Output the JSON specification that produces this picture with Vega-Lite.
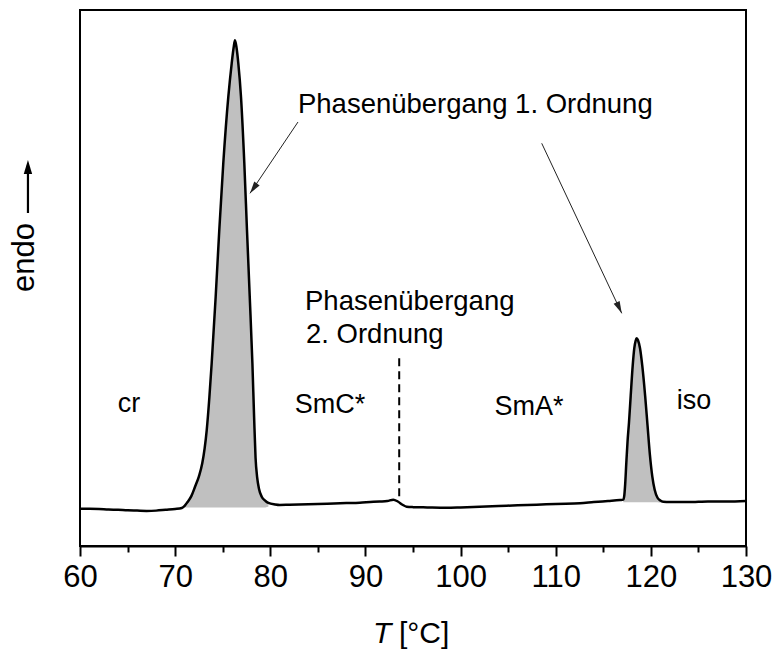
{
  "$schema": "https://vega.github.io/schema/vega-lite/v6.json",
  "width": 666,
  "height": 536,
  "autosize": {"type": "none"},
  "padding": {"left": 80, "top": 10, "right": 31, "bottom": 106},
  "background": "white",
  "config": {"view": {"stroke": "black", "strokeWidth": 2}, "font": "Liberation Sans"},
  "datasets": {
    "curve": [
      {"T": 60, "u": 6.96}, {"T": 61, "u": 6.95}, {"T": 62, "u": 6.9}, {"T": 63, "u": 6.8}, {"T": 64, "u": 6.75},
      {"T": 65, "u": 6.65}, {"T": 66, "u": 6.6}, {"T": 67, "u": 6.55}, {"T": 68, "u": 6.6}, {"T": 69, "u": 6.75},
      {"T": 70, "u": 6.9}, {"T": 70.7, "u": 7.1}, {"T": 71.0, "u": 7.5}, {"T": 71.3, "u": 8.2}, {"T": 71.7, "u": 9.3},
      {"T": 72.09, "u": 11.06}, {"T": 72.5, "u": 13.0}, {"T": 72.85, "u": 15.43}, {"T": 73.1, "u": 18.2}, {"T": 73.32, "u": 21.64},
      {"T": 73.6, "u": 27.8}, {"T": 73.84, "u": 34.09}, {"T": 74.26, "u": 46.51}, {"T": 74.64, "u": 58.96}, {"T": 75.06, "u": 71.4},
      {"T": 75.59, "u": 83.82}, {"T": 75.945, "u": 90.06}, {"T": 76.15, "u": 93.0}, {"T": 76.29, "u": 94.35}, {"T": 76.45, "u": 93.0},
      {"T": 76.64, "u": 90.06}, {"T": 76.92, "u": 83.82}, {"T": 77.27, "u": 71.4}, {"T": 77.55, "u": 58.96}, {"T": 77.84, "u": 46.51},
      {"T": 78.12, "u": 34.1}, {"T": 78.3, "u": 24.0}, {"T": 78.45, "u": 16.5}, {"T": 78.62, "u": 12.8}, {"T": 78.81, "u": 10.7},
      {"T": 79.1, "u": 9.2}, {"T": 79.5, "u": 8.4}, {"T": 79.8, "u": 8.05}, {"T": 80.5, "u": 7.75}, {"T": 81, "u": 7.65},
      {"T": 82, "u": 7.7}, {"T": 84, "u": 7.8}, {"T": 86, "u": 7.9}, {"T": 88, "u": 8.0}, {"T": 89.4, "u": 8.08},
      {"T": 90.5, "u": 8.2}, {"T": 91.5, "u": 8.3}, {"T": 92.3, "u": 8.4}, {"T": 92.93, "u": 8.65}, {"T": 93.4, "u": 8.3},
      {"T": 93.9, "u": 7.7}, {"T": 94.33, "u": 7.33}, {"T": 95, "u": 7.25}, {"T": 96.5, "u": 7.2}, {"T": 98.5, "u": 7.15},
      {"T": 100, "u": 7.2}, {"T": 102, "u": 7.3}, {"T": 104, "u": 7.45}, {"T": 106, "u": 7.6}, {"T": 108, "u": 7.7},
      {"T": 110, "u": 7.85}, {"T": 112.55, "u": 7.97}, {"T": 114, "u": 8.2}, {"T": 115.5, "u": 8.4}, {"T": 116.76, "u": 8.58},
      {"T": 117.1, "u": 8.65}, {"T": 117.2, "u": 9.3}, {"T": 117.3, "u": 11.5}, {"T": 117.42, "u": 15.5}, {"T": 117.55, "u": 19.5},
      {"T": 117.7, "u": 23.0}, {"T": 117.88, "u": 28.0}, {"T": 118.09, "u": 33.6}, {"T": 118.26, "u": 36.9}, {"T": 118.4, "u": 38.3},
      {"T": 118.51, "u": 38.75}, {"T": 118.65, "u": 38.4}, {"T": 118.86, "u": 36.9}, {"T": 119.1, "u": 33.6}, {"T": 119.4, "u": 28.0},
      {"T": 119.65, "u": 22.5}, {"T": 119.9, "u": 17.0}, {"T": 120.15, "u": 13.0}, {"T": 120.4, "u": 10.5}, {"T": 120.7, "u": 9.0},
      {"T": 121.0, "u": 8.5}, {"T": 121.3, "u": 8.27},
      {"T": 122, "u": 8.2}, {"T": 124, "u": 8.2}, {"T": 125, "u": 8.25}, {"T": 126, "u": 8.3}, {"T": 128, "u": 8.3},
      {"T": 130, "u": 8.4}
    ],
    "fill": [
      {"p": 1, "T": 71.0, "u": 7.5, "u2": 7.2}, {"p": 1, "T": 71.3, "u": 8.2, "u2": 7.2}, {"p": 1, "T": 71.7, "u": 9.3, "u2": 7.2},
      {"p": 1, "T": 72.09, "u": 11.06, "u2": 7.2}, {"p": 1, "T": 72.5, "u": 13.0, "u2": 7.2}, {"p": 1, "T": 72.85, "u": 15.43, "u2": 7.2},
      {"p": 1, "T": 73.1, "u": 18.2, "u2": 7.2}, {"p": 1, "T": 73.32, "u": 21.64, "u2": 7.2}, {"p": 1, "T": 73.6, "u": 27.8, "u2": 7.2},
      {"p": 1, "T": 73.84, "u": 34.09, "u2": 7.2}, {"p": 1, "T": 74.26, "u": 46.51, "u2": 7.2}, {"p": 1, "T": 74.64, "u": 58.96, "u2": 7.2},
      {"p": 1, "T": 75.06, "u": 71.4, "u2": 7.2}, {"p": 1, "T": 75.59, "u": 83.82, "u2": 7.2}, {"p": 1, "T": 75.945, "u": 90.06, "u2": 7.2},
      {"p": 1, "T": 76.15, "u": 93.0, "u2": 7.2}, {"p": 1, "T": 76.29, "u": 94.35, "u2": 7.2}, {"p": 1, "T": 76.45, "u": 93.0, "u2": 7.2},
      {"p": 1, "T": 76.64, "u": 90.06, "u2": 7.2}, {"p": 1, "T": 76.92, "u": 83.82, "u2": 7.2}, {"p": 1, "T": 77.27, "u": 71.4, "u2": 7.2},
      {"p": 1, "T": 77.55, "u": 58.96, "u2": 7.2}, {"p": 1, "T": 77.84, "u": 46.51, "u2": 7.2}, {"p": 1, "T": 78.12, "u": 34.1, "u2": 7.2},
      {"p": 1, "T": 78.3, "u": 24.0, "u2": 7.2}, {"p": 1, "T": 78.45, "u": 16.5, "u2": 7.2}, {"p": 1, "T": 78.62, "u": 12.8, "u2": 7.2},
      {"p": 1, "T": 78.81, "u": 10.7, "u2": 7.2}, {"p": 1, "T": 79.1, "u": 9.2, "u2": 7.2}, {"p": 1, "T": 79.5, "u": 8.4, "u2": 7.2},
      {"p": 1, "T": 79.8, "u": 8.05, "u2": 7.3},
      {"p": 2, "T": 117.1, "u": 8.65, "u2": 8.15}, {"p": 2, "T": 117.2, "u": 9.3, "u2": 8.15}, {"p": 2, "T": 117.3, "u": 11.5, "u2": 8.15},
      {"p": 2, "T": 117.42, "u": 15.5, "u2": 8.15}, {"p": 2, "T": 117.55, "u": 19.5, "u2": 8.15}, {"p": 2, "T": 117.7, "u": 23.0, "u2": 8.15},
      {"p": 2, "T": 117.88, "u": 28.0, "u2": 8.15}, {"p": 2, "T": 118.09, "u": 33.6, "u2": 8.15}, {"p": 2, "T": 118.26, "u": 36.9, "u2": 8.15},
      {"p": 2, "T": 118.4, "u": 38.3, "u2": 8.15}, {"p": 2, "T": 118.51, "u": 38.75, "u2": 8.15}, {"p": 2, "T": 118.65, "u": 38.4, "u2": 8.15},
      {"p": 2, "T": 118.86, "u": 36.9, "u2": 8.15}, {"p": 2, "T": 119.1, "u": 33.6, "u2": 8.15}, {"p": 2, "T": 119.4, "u": 28.0, "u2": 8.15},
      {"p": 2, "T": 119.65, "u": 22.5, "u2": 8.15}, {"p": 2, "T": 119.9, "u": 17.0, "u2": 8.15}, {"p": 2, "T": 120.15, "u": 13.0, "u2": 8.15},
      {"p": 2, "T": 120.4, "u": 10.5, "u2": 8.15}, {"p": 2, "T": 120.7, "u": 9.0, "u2": 8.15}, {"p": 2, "T": 121.0, "u": 8.5, "u2": 8.1},
      {"p": 2, "T": 121.3, "u": 8.27, "u2": 8.1}
    ],
    "dashed": [{"T": 93.55, "u": 9.3, "u2": 35.3}],
    "arrows": [
      {"T": 82.91, "u": 79.1, "T2": 77.87, "u2": 65.8},
      {"T": 108.53, "u": 75.13, "T2": 116.94, "u2": 43.41}
    ],
    "head1": [{"T": 77.87, "u": 65.8}],
    "head2": [{"T": 116.94, "u": 43.41}],
    "endoLine": [{"T": 54.53, "u": 62.13, "T2": 54.53, "u2": 71.0}],
    "endoHead": [{"T": 54.53, "u": 72.0}],
    "endoText": [{"T": 55.16, "u": 53.82, "t": "endo"}],
    "leftText": [
      {"T": 82.91, "u": 80.73, "t": "Phasenübergang 1. Ordnung"},
      {"T": 83.65, "u": 44.03, "t": "Phasenübergang"},
      {"T": 83.75, "u": 37.82, "t": "2. Ordnung"}
    ],
    "centerText": [
      {"T": 65.15, "u": 25.06, "t": "cr"},
      {"T": 86.28, "u": 24.81, "t": "SmC*"},
      {"T": 107.19, "u": 24.44, "t": "SmA*"},
      {"T": 124.54, "u": 25.5, "t": "iso"}
    ],
    "titleT": [{"T": 90.8, "u": -18.1, "t": "T"}],
    "titleUnit": [{"T": 93.53, "u": -18.1, "t": "[°C]"}]
  },
  "encoding": {
    "x": {
      "field": "T", "type": "quantitative",
      "scale": {"domain": [60, 130], "nice": false, "zero": false},
      "axis": {
        "title": null, "grid": false,
        "values": [60, 65, 70, 75, 80, 85, 90, 95, 100, 105, 110, 115, 120, 125, 130],
        "labelExpr": "datum.value % 10 === 0 ? datum.label : ''",
        "tickSize": {"condition": {"test": "datum.value % 10 !== 0", "value": 6}, "value": 10},
        "tickWidth": 2, "tickColor": "black",
        "domainColor": "black", "domainWidth": 2,
        "labelFontSize": 31, "labelColor": "black", "labelFont": "Liberation Sans",
        "labelPadding": 6, "labelFlush": false, "labelOverlap": false
      }
    },
    "y": {
      "field": "u", "type": "quantitative",
      "scale": {"domain": [0, 100], "nice": false, "zero": false},
      "axis": null
    }
  },
  "layer": [
    {
      "data": {"name": "fill"},
      "mark": {"type": "area", "color": "#c0c0c0", "opacity": 1, "interpolate": "monotone"},
      "encoding": {"y2": {"field": "u2"}, "detail": {"field": "p", "type": "nominal"}}
    },
    {
      "data": {"name": "curve"},
      "mark": {"type": "line", "color": "black", "strokeWidth": 2.5, "interpolate": "monotone"},
      "encoding": {}
    },
    {
      "data": {"name": "dashed"},
      "mark": {"type": "rule", "color": "black", "strokeWidth": 2, "strokeDash": [8, 5]},
      "encoding": {"y2": {"field": "u2"}}
    },
    {
      "data": {"name": "arrows"},
      "mark": {"type": "rule", "color": "#222222", "strokeWidth": 1},
      "encoding": {"x2": {"field": "T2"}, "y2": {"field": "u2"}}
    },
    {
      "data": {"name": "head1"},
      "mark": {"type": "point", "shape": "M0,0L-0.55,2L0.55,2Z", "filled": true, "color": "#222222", "size": 144, "angle": 215.2, "opacity": 1},
      "encoding": {}
    },
    {
      "data": {"name": "head2"},
      "mark": {"type": "point", "shape": "M0,0L-0.55,2L0.55,2Z", "filled": true, "color": "#222222", "size": 144, "angle": 154.8, "opacity": 1},
      "encoding": {}
    },
    {
      "data": {"name": "endoLine"},
      "mark": {"type": "rule", "color": "black", "strokeWidth": 2.2, "clip": false},
      "encoding": {"x2": {"field": "T2"}, "y2": {"field": "u2"}}
    },
    {
      "data": {"name": "endoHead"},
      "mark": {"type": "point", "shape": "M0,0L-0.6,2L0.6,2Z", "filled": true, "color": "black", "size": 196, "angle": 0, "opacity": 1},
      "encoding": {}
    },
    {
      "data": {"name": "endoText"},
      "mark": {"type": "text", "angle": 270, "align": "center", "baseline": "alphabetic", "fontSize": 31, "color": "black"},
      "encoding": {"text": {"field": "t"}}
    },
    {
      "data": {"name": "leftText"},
      "mark": {"type": "text", "align": "left", "baseline": "alphabetic", "fontSize": 27.5, "color": "black"},
      "encoding": {"text": {"field": "t"}}
    },
    {
      "data": {"name": "centerText"},
      "mark": {"type": "text", "align": "center", "baseline": "alphabetic", "fontSize": 27, "color": "black"},
      "encoding": {"text": {"field": "t"}}
    },
    {
      "data": {"name": "titleT"},
      "mark": {"type": "text", "align": "left", "baseline": "alphabetic", "fontSize": 30, "fontStyle": "italic", "color": "black"},
      "encoding": {"text": {"field": "t"}}
    },
    {
      "data": {"name": "titleUnit"},
      "mark": {"type": "text", "align": "left", "baseline": "alphabetic", "fontSize": 30, "color": "black"},
      "encoding": {"text": {"field": "t"}}
    }
  ]
}
